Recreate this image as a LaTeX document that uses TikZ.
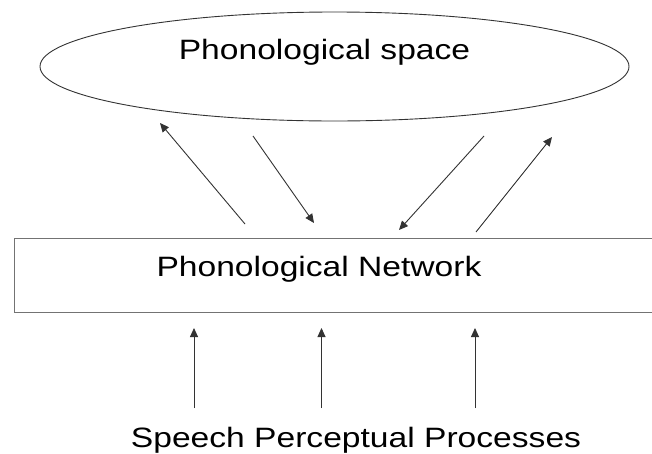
\documentclass[tikz,border=0pt]{standalone}
\usepackage{fontspec}
\setmainfont[FakeStretch=1.2]{Liberation Sans}
\usetikzlibrary{arrows.meta,shapes.geometric}
\tikzset{
  lbl/.style={anchor=base, inner sep=0pt, font=\fontsize{28}{34}\selectfont, text=black},
  conn/.style={draw=black!80, line width=0.9pt, -{Triangle[length=9pt,width=8pt]}},
}
\begin{document}
\begin{tikzpicture}[x=1pt,y=-1pt]
\useasboundingbox (0,0) rectangle (652,453);
\clip (0,0) rectangle (652,453);
\fill[white] (0,0) rectangle (652,453);
% ellipse
\node[draw=black!80, line width=0.9pt, ellipse, minimum width=589pt, minimum height=109pt, inner sep=0pt] (space) at (334.5,66.5) {};
\node[lbl] (spacelabel) at (324.5,59.5) {Phonological space};
% network box (right side runs off the picture)
\node[draw=black!55, line width=1.4pt, rectangle, minimum width=660pt, minimum height=74pt, inner sep=0pt, anchor=north west] (network) at (14,238) {};
\node[lbl] (networklabel) at (319,276) {Phonological Network};
% bottom label
\node[lbl] (speech) at (356,447) {Speech Perceptual Processes};
% arrow coordinates
\coordinate (a1s) at (245,224); \coordinate (a1e) at (160,123);
\coordinate (a2s) at (253,136); \coordinate (a2e) at (314,223);
\coordinate (a3s) at (484,136); \coordinate (a3e) at (399,230);
\coordinate (a4s) at (476,232); \coordinate (a4e) at (552,137);
\draw[conn] (a1s) -- (a1e);
\draw[conn] (a2s) -- (a2e);
\draw[conn] (a3s) -- (a3e);
\draw[conn] (a4s) -- (a4e);
\coordinate (b1s) at (194,408); \coordinate (b1e) at (194,328);
\coordinate (b2s) at (321.5,408); \coordinate (b2e) at (321.5,328);
\coordinate (b3s) at (475,408); \coordinate (b3e) at (475,328);
\draw[conn] (b1s) -- (b1e);
\draw[conn] (b2s) -- (b2e);
\draw[conn] (b3s) -- (b3e);
\end{tikzpicture}
\end{document}
